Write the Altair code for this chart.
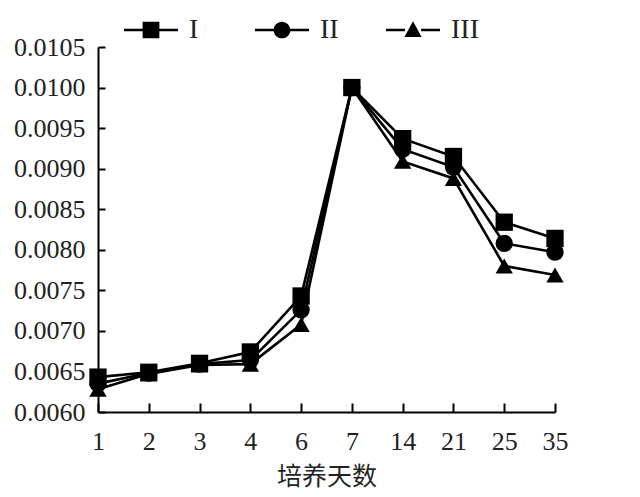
import altair as alt
import pandas as pd

days = ["1", "2", "3", "4", "6", "7", "14", "21", "25", "35"]
series_names = ["I", "II", "III"]
vals_I = [0.00643, 0.00649, 0.00660, 0.00674, 0.00743, 0.01000, 0.00937, 0.00915, 0.00834, 0.00814]
vals_II = [0.00635, 0.00648, 0.00659, 0.00664, 0.00726, 0.01000, 0.00924, 0.00902, 0.00808, 0.00797]
vals_III = [0.00628, 0.00647, 0.00658, 0.00659, 0.00708, 0.01000, 0.00909, 0.00888, 0.00780, 0.00769]
y_ticks = [0.0060, 0.0065, 0.0070, 0.0075, 0.0080, 0.0085, 0.0090, 0.0095, 0.0100, 0.0105]

rows = []
for name, vals in [("III", vals_III), ("II", vals_II), ("I", vals_I)]:
    for d, v in zip(days, vals):
        rows.append({"day": d, "value": v, "series": name})
df = pd.DataFrame(rows)

W, H = 457, 365
SERIF = "Liberation Serif"

# legend symbols: marker with a line stub on both sides (unit square -1..1)
leg_paths = [
    "M-1,-0.05H-0.3V0.05H-1Z M0.3,-0.05H1V0.05H0.3Z M-0.31,-0.31H0.31V0.31H-0.31Z",
    "M-1,-0.05H-0.3V0.05H-1Z M0.3,-0.05H1V0.05H0.3Z M-0.31,0A0.31,0.31 0 1,1 0.31,0A0.31,0.31 0 1,1 -0.31,0Z",
    "M-1,-0.05H-0.3V0.05H-1Z M0.3,-0.05H1V0.05H0.3Z M0,-0.32L0.32,0.26L-0.32,0.26Z",
]

xscale = alt.Scale(domain=days, padding=0)
yscale = alt.Scale(domain=[0.0060, 0.0105], nice=False, zero=False)

base = alt.Chart(df)

lines = base.mark_line(color="black", strokeWidth=2.6).encode(
    x=alt.X("day:O", sort=days, scale=xscale,
            axis=alt.Axis(title="培养天数", ticks=False, labelAngle=0,
                          labelFont=SERIF, labelFontSize=26, labelColor="#222",
                          labelPadding=16, domainColor="black", domainWidth=2,
                          titleFont="Noto Sans CJK SC", titleFontSize=25,
                          titleFontWeight="normal", titleColor="#222",
                          titlePadding=10)),
    y=alt.Y("value:Q", scale=yscale,
            axis=alt.Axis(title=None, values=y_ticks, format=".4f", ticks=False,
                          grid=False, labelFont=SERIF, labelFontSize=26,
                          labelColor="#222", labelPadding=13,
                          domainColor="black", domainWidth=2)),
    detail="series:N",
)

points = base.mark_point(filled=True, opacity=1, color="black", size=300).encode(
    x=alt.X("day:O", sort=days, scale=xscale,
            axis=alt.Axis(orient="top", offset=-H, labels=False, domain=False,
                          title=None, ticks=True, tickSize=9, tickWidth=2,
                          tickColor="black")),
    y=alt.Y("value:Q", scale=yscale,
            axis=alt.Axis(orient="right", offset=-W, values=y_ticks, labels=False,
                          domain=False, title=None, grid=False, ticks=True,
                          tickSize=7, tickWidth=2, tickColor="black")),
    shape=alt.Shape("series:N",
                    scale=alt.Scale(domain=series_names,
                                    range=["square", "circle", "triangle-up"]),
                    legend=None),
)

legend_layer = base.mark_point(filled=True, opacity=0, color="black", size=2916).encode(
    x=alt.X("day:O", sort=days, scale=xscale, axis=None),
    y=alt.Y("value:Q", scale=yscale, axis=None),
    shape=alt.Shape("series:N",
                    scale=alt.Scale(domain=series_names, range=leg_paths),
                    legend=alt.Legend(orient="none", legendX=26, legendY=-44,
                                      direction="horizontal", columns=3,
                                      title=None, symbolSize=2916,
                                      symbolFillColor="black",
                                      symbolStrokeColor="black",
                                      symbolStrokeWidth=0, symbolOpacity=1,
                                      labelFont=SERIF, labelFontSize=28,
                                      labelColor="#222", labelOffset=11,
                                      columnPadding=38, gridAlign="all",
                                      padding=0)),
)

chart = (
    alt.layer(lines, points, legend_layer)
    .resolve_scale(shape="independent")
    .resolve_axis(x="independent", y="independent")
    .properties(width=W, height=H,
                padding={"left": 98, "top": 47, "right": 85, "bottom": 85},
                autosize=alt.AutoSizeParams(type="none"),
                background="white")
    .configure_view(stroke=None)
)

chart.save("out.html", embed_options={"renderer": "svg", "actions": False})
